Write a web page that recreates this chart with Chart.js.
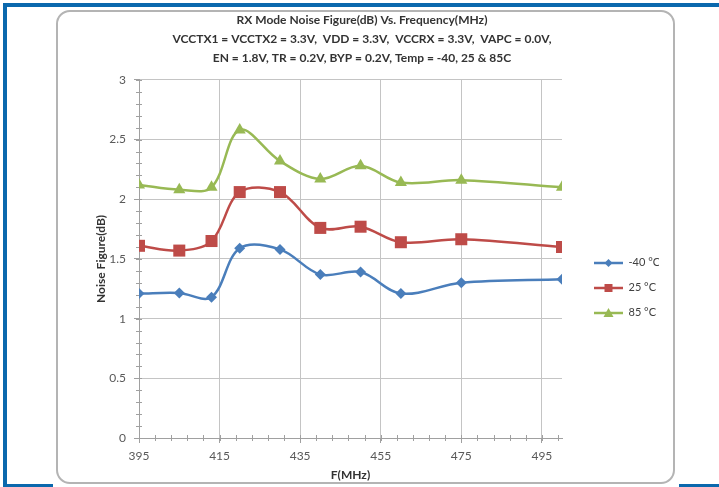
<!DOCTYPE html>
<html>
<head>
<meta charset="utf-8">
<script src="https://cdn.jsdelivr.net/npm/chart.js@4.4.1/dist/chart.umd.min.js"></script>
<style>
  html, body { margin: 0; padding: 0; background: #fff; }
  #wrap { width: 719px; height: 487px; }
</style>
</head>
<body>
<div id="wrap"><canvas id="canvas" width="719" height="487"></canvas></div>
<script>
// frequency (MHz) and noise figure (dB)
const freq = [395, 405, 413, 420, 430, 440, 450, 460, 475, 500];
const nfMinus40 = [1.21, 1.215, 1.18, 1.59, 1.58, 1.37, 1.39, 1.21, 1.30, 1.33];
const nf25 = [1.61, 1.57, 1.65, 2.06, 2.06, 1.76, 1.77, 1.64, 1.665, 1.60];
const nf85 = [2.12, 2.08, 2.10, 2.58, 2.32, 2.17, 2.28, 2.14, 2.16, 2.10];
const seriesNames = ['-40 °C', '25 °C', '85 °C'];
const xTicks = [395, 415, 435, 455, 475, 495];
const yTicks = [0, 0.5, 1, 1.5, 2, 2.5, 3];
const titleLines = [
  'RX Mode Noise Figure(dB) Vs. Frequency(MHz)',
  'VCCTX1 = VCCTX2 = 3.3V,  VDD = 3.3V,  VCCRX = 3.3V,  VAPC = 0.0V,',
  'EN = 1.8V, TR = 0.2V, BYP = 0.2V, Temp = -40, 25 & 85C'
];

const colors = ['#4a7ebb', '#be4b48', '#98b954'];
const styles = ['rectRot', 'rect', 'triangle'];
const radii = [5.5, 8.5, 7];

Chart.defaults.font.family = 'Lato, "Open Sans", sans-serif';

function toPoints(vals) {
  return freq.map((f, i) => ({ x: f, y: vals[i] }));
}

// little line + marker picture for the legend
function legendIcon(color, style) {
  const c = document.createElement('canvas');
  c.width = 47; c.height = 14;
  const g = c.getContext('2d');
  g.strokeStyle = color; g.fillStyle = color; g.lineWidth = 2.5;
  g.beginPath(); g.moveTo(18, 7); g.lineTo(47, 7); g.stroke();
  const cx = 32.5, cy = 7;
  g.beginPath();
  if (style === 'rectRot') {
    g.moveTo(cx, cy - 4); g.lineTo(cx + 4, cy); g.lineTo(cx, cy + 4); g.lineTo(cx - 4, cy);
  } else if (style === 'rect') {
    g.rect(cx - 4, cy - 4, 8, 8);
  } else {
    g.moveTo(cx, cy - 5); g.lineTo(cx + 5, cy + 4); g.lineTo(cx - 5, cy + 4);
  }
  g.closePath(); g.fill();
  return c;
}
const icons = colors.map((c, i) => legendIcon(c, styles[i]));

const frame = {
  id: 'frame',
  beforeDraw(chart) {
    const ctx = chart.ctx;
    ctx.save();
    ctx.fillStyle = '#fff';
    ctx.fillRect(0, 0, chart.width, chart.height);
    // blue page border
    ctx.fillStyle = '#0a68ad';
    ctx.fillRect(3, 3, chart.width - 3, 4);
    ctx.fillRect(3, 3, 4, chart.height - 3);
    ctx.fillRect(3, 484, 50, 3);
    ctx.fillRect(679, 484, 40, 3);
    // grey rounded chart panel
    ctx.strokeStyle = '#b4b4b4';
    ctx.lineWidth = 2;
    ctx.beginPath();
    ctx.roundRect(57, 11, 617, 472, 13);
    ctx.stroke();
    ctx.restore();
  }
};

const minorTicks = {
  id: 'minorTicks',
  beforeDatasetsDraw(chart) {
    const { ctx, chartArea } = chart;
    const x = chart.scales.x, y = chart.scales.y;
    ctx.save();
    ctx.strokeStyle = '#a0a0a0';
    ctx.lineWidth = 1;
    ctx.beginPath();
    for (let v = x.min; v <= x.max; v += 4) {
      const px = Math.round(x.getPixelForValue(v)) + 0.5;
      ctx.moveTo(px, chartArea.bottom - 3);
      ctx.lineTo(px, chartArea.bottom + 3);
    }
    for (let i = 0; i <= 30; i++) {
      const py = Math.round(y.getPixelForValue(i / 10)) + 0.5;
      ctx.moveTo(chartArea.left - 3, py);
      ctx.lineTo(chartArea.left + 3, py);
    }
    ctx.stroke();
    ctx.restore();
  }
};

const allSeries = [nfMinus40, nf25, nf85];

new Chart(document.getElementById('canvas'), {
  type: 'line',
  data: {
    datasets: allSeries.map((vals, i) => ({
      label: seriesNames[i],
      data: toPoints(vals),
      borderColor: colors[i],
      backgroundColor: colors[i],
      borderWidth: 2.5,
      tension: 0.35,
      pointStyle: styles[i],
      pointRadius: radii[i],
      pointBorderWidth: 0,
      pointBackgroundColor: colors[i]
    }))
  },
  options: {
    responsive: false,
    animation: false,
    layout: { padding: { left: 65, right: 60, top: 0, bottom: 0 } },
    plugins: {
      title: {
        display: true,
        text: titleLines,
        color: '#333',
        font: { size: 12, weight: 'bold', lineHeight: 1.58 },
        padding: { top: 10.5, bottom: 12.5 }
      },
      legend: {
        position: 'right',
        fullSize: false,
        maxWidth: 97,
        title: { display: true, text: '', padding: { top: 46, bottom: 0 }, font: { size: 10 } },
        labels: {
          usePointStyle: true,
          pointStyleWidth: 47,
          padding: 14,
          color: '#404040',
          font: { size: 11 },
          generateLabels(chart) {
            const items = Chart.defaults.plugins.legend.labels.generateLabels(chart);
            items.forEach((it, i) => { it.pointStyle = icons[i]; });
            return items;
          }
        }
      },
      tooltip: { enabled: false }
    },
    scales: {
      x: {
        type: 'linear',
        min: 395,
        max: 500,
        afterBuildTicks: s => { s.ticks = xTicks.map(v => ({ value: v })); },
        afterFit: s => { s.height = 49; },
        grid: { color: '#c4c4c4', tickLength: 5, tickColor: '#a0a0a0' },
        border: { color: '#a0a0a0' },
        ticks: { padding: 6, color: '#595959', font: { size: 12 }, maxRotation: 0, autoSkip: false },
        title: {
          display: true, text: 'F(MHz)', color: '#333',
          font: { size: 12, weight: 'bold' }, padding: { top: 0, bottom: 5 }
        }
      },
      y: {
        min: 0,
        max: 3,
        afterBuildTicks: s => { s.ticks = yTicks.map(v => ({ value: v })); },
        afterFit: s => { s.width = 74; },
        grid: { color: '#c4c4c4', tickLength: 5, tickColor: '#a0a0a0' },
        border: { color: '#a0a0a0' },
        ticks: { padding: 8, color: '#595959', font: { size: 12 }, callback: v => String(v) },
        title: {
          display: true, text: 'Noise Figure(dB)', color: '#333',
          font: { size: 12, weight: 'bold' }, padding: { top: 29, bottom: 0 }
        }
      }
    }
  },
  plugins: [frame, minorTicks]
});
</script>
</body>
</html>
